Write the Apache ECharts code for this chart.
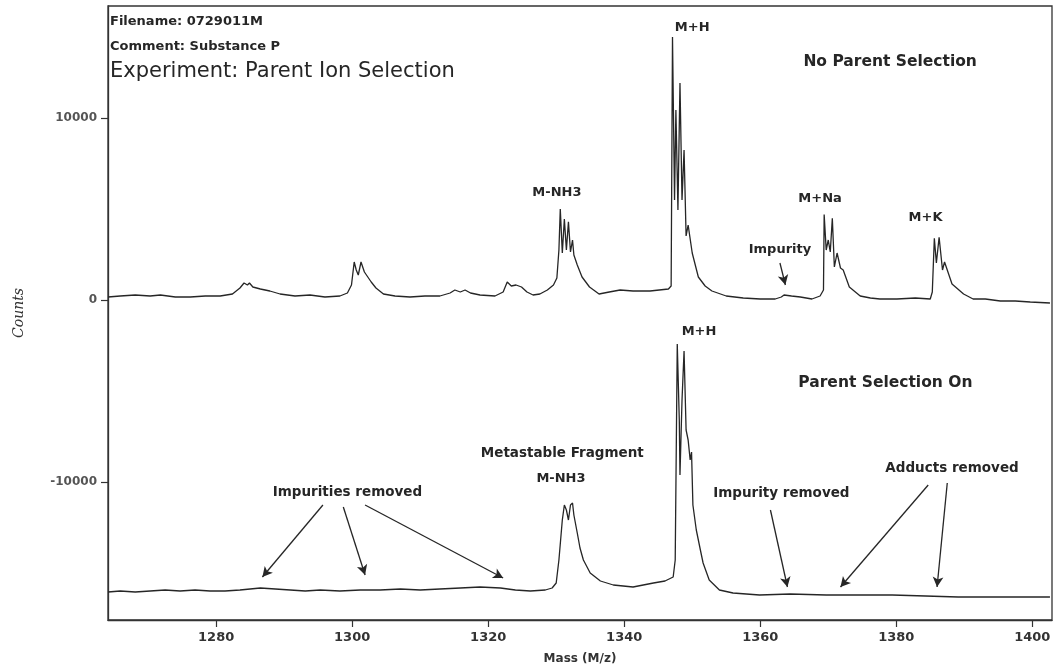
<!DOCTYPE html>
<html>
<head>
<meta charset="utf-8">
<script src="https://cdn.jsdelivr.net/npm/echarts@6/dist/echarts.min.js"></script>
<style>
html,body{margin:0;padding:0;background:#fff;}
#chart{width:1058px;height:671px;}
</style>
</head>
<body>
<div id="chart"></div>
<script>
// ---- Data ----
const xTicks = [1280, 1300, 1320, 1340, 1360, 1380, 1400];
const yTicks = [-10000, 0, 10000];

// Top trace: "No Parent Selection"
const topMass = [1264.1,1265.9,1268.1,1270.3,1271.8,1274.0,1276.2,1278.4,1280.6,1282.4,1283.5,1284.1,1284.6,1284.9,1285.4,1286.5,1287.9,1289.4,1291.6,1293.8,1296.0,1298.2,1299.3,1299.9,1300.3,1300.6,1300.9,1301.3,1301.8,1302.2,1302.8,1303.5,1304.6,1306.3,1308.5,1310.7,1312.9,1314.4,1315.1,1315.9,1316.6,1317.4,1318.8,1321.0,1322.2,1322.8,1323.4,1324.1,1324.9,1325.7,1326.6,1327.6,1328.7,1329.6,1330.1,1330.4,1330.6,1330.9,1331.2,1331.5,1331.8,1332.1,1332.4,1332.6,1333.1,1333.8,1334.9,1336.3,1337.8,1339.4,1341.3,1343.8,1346.5,1346.9,1347.1,1347.4,1347.6,1347.9,1348.2,1348.5,1348.8,1349.1,1349.4,1350.0,1350.9,1351.9,1352.9,1355.0,1357.5,1360.0,1362.2,1363.1,1363.5,1364.6,1365.9,1367.6,1368.8,1369.3,1369.4,1369.7,1370.0,1370.3,1370.6,1370.9,1371.3,1371.8,1372.2,1373.1,1374.7,1376.2,1377.6,1380.1,1382.8,1385.0,1385.3,1385.6,1385.9,1386.3,1386.8,1387.1,1387.5,1388.2,1389.9,1391.3,1393.1,1395.3,1397.5,1399.7,1402.6];
const topCounts = [165,220,275,220,275,165,165,220,220,330,660,935,825,935,715,605,495,330,220,275,165,220,385,825,2090,1650,1375,2090,1540,1320,990,660,330,220,165,220,220,385,550,440,550,385,275,220,440,990,770,825,715,440,275,330,550,825,1210,2750,5000,2585,4450,2750,4300,2640,3300,2475,1925,1265,715,330,440,550,495,495,605,770,14465,5500,10450,4950,11935,5500,8250,3520,4125,2585,1265,770,495,220,110,55,55,165,275,220,165,55,220,550,4700,2750,3300,2640,4500,1815,2585,1760,1650,715,220,110,55,55,110,55,440,3400,2035,3450,1650,2090,1650,880,330,55,55,-55,-55,-110,-165];

// Bottom trace: "Parent Selection On"
const bottomMass = [1264.1,1265.9,1268.1,1270.3,1272.5,1274.7,1276.9,1279.1,1281.3,1283.5,1286.5,1288.7,1290.9,1293.1,1295.3,1298.2,1301.2,1304.1,1307.1,1310.0,1312.9,1315.9,1318.8,1321.8,1324.0,1326.2,1328.4,1329.4,1330.0,1330.4,1330.9,1331.2,1331.5,1331.8,1332.1,1332.4,1332.6,1333.1,1333.5,1334.0,1335.0,1336.5,1338.4,1341.3,1344.3,1346.0,1347.2,1347.5,1347.8,1348.1,1348.2,1348.5,1348.8,1349.1,1349.4,1349.7,1349.9,1350.1,1350.6,1351.2,1351.6,1352.5,1354.0,1356.0,1359.9,1364.4,1369.7,1374.7,1379.4,1384.3,1389.1,1395.3,1402.6];
const bottomCounts = [-16060,-16005,-16060,-16005,-15950,-16005,-15950,-16005,-16005,-15950,-15840,-15895,-15950,-16005,-15950,-16005,-15950,-15950,-15895,-15950,-15895,-15840,-15785,-15840,-15950,-16005,-15950,-15840,-15565,-14300,-12100,-11275,-11550,-12100,-11275,-11165,-11825,-12815,-13640,-14300,-15015,-15455,-15675,-15785,-15565,-15455,-15235,-14300,-2420,-6600,-9625,-5500,-2805,-7150,-7700,-8800,-8360,-11275,-12650,-13750,-14465,-15400,-15950,-16115,-16225,-16170,-16225,-16225,-16225,-16280,-16335,-16335,-16335];

// Annotation texts and their anchor points (data units)
const annotTexts  = ["M+H","No Parent Selection","M-NH3","M+Na","M+K","Impurity","M+H","Parent Selection On","Metastable Fragment","M-NH3","Impurities removed","Impurity removed","Adducts removed"];
const annotMass   = [1350.0,1379.1,1330.1,1368.8,1384.3,1362.9,1351.0,1378.4,1330.9,1330.7,1299.3,1363.1,1388.2];
const annotCounts = [14960,13090,5885,5555,4510,2750,-1760,-4565,-8415,-9845,-10560,-10615,-9240];

// Arrows (data units)
const arrowFromMass   = [1362.9,1295.7,1298.7,1301.9,1361.5,1384.7,1387.5];
const arrowFromCounts = [2035,-11275,-11385,-11275,-11550,-10175,-10065];
const arrowToMass     = [1363.7,1286.8,1301.9,1322.2,1364.0,1371.8,1386.0];
const arrowToCounts   = [825,-15235,-15125,-15290,-15785,-15785,-15785];

// Header texts
const headerTexts = ["Filename: 0729011M", "Comment: Substance P", "Experiment: Parent Ion Selection"];

// ---- Chart ----
const chart = echarts.init(document.getElementById('chart'), null, {renderer: 'canvas'});
const ink = '#262626';
const topData = topMass.map((m, i) => [m, topCounts[i]]);
const bottomData = bottomMass.map((m, i) => [m, bottomCounts[i]]);
const arrows = arrowFromMass.map((m, i) => [
  {coord: [m, arrowFromCounts[i]]},
  {coord: [arrowToMass[i], arrowToCounts[i]]}
]);

const option = {
  backgroundColor: '#ffffff',
  animation: false,
  grid: {left: 108, right: 6, top: 6, bottom: 51, show: true, borderColor: '#333', borderWidth: 1.3, backgroundColor: 'transparent'},
  xAxis: {
    type: 'value', min: 1264.1, max: 1402.9,
    name: 'Mass (M/z)', nameLocation: 'middle', nameGap: 33,
    nameTextStyle: {fontFamily: 'DejaVu Sans', fontWeight: 'bold', fontSize: 12, color: '#333'},
    axisLine: {onZero: false, lineStyle: {color: '#333', width: 1.3}},
    axisTick: {show: true, length: 7, customValues: xTicks, lineStyle: {color: '#333', width: 1.2}},
    axisLabel: {customValues: xTicks, margin: 11, formatter: v => String(v), fontFamily: 'DejaVu Sans', fontWeight: 'bold', fontSize: 13, color: '#333'},
    splitLine: {show: false}
  },
  yAxis: {
    type: 'value', min: -17600, max: 16170,
    name: 'Counts', nameLocation: 'middle', nameGap: 82, nameRotate: 90,
    nameTextStyle: {fontFamily: 'DejaVu Serif', fontStyle: 'italic', fontSize: 14, color: '#333'},
    axisLine: {lineStyle: {color: '#333', width: 1.3}},
    axisTick: {show: true, length: 7, customValues: yTicks, lineStyle: {color: '#333', width: 1.2}},
    axisLabel: {customValues: yTicks, margin: 11, formatter: v => String(v), fontFamily: 'DejaVu Sans', fontWeight: 'bold', fontSize: 12, color: '#555'},
    splitLine: {show: false}
  },
  series: [
    {
      name: 'No Parent Selection', type: 'line', data: topData,
      showSymbol: false, symbol: 'none', smooth: false,
      lineStyle: {color: ink, width: 1.3}
    },
    {
      name: 'Parent Selection On', type: 'line', data: bottomData,
      showSymbol: false, symbol: 'none', smooth: false,
      lineStyle: {color: ink, width: 1.3},
      markLine: {
        silent: true, symbol: ['none', 'arrow'], symbolSize: [8, 10], precision: 1,
        label: {show: false},
        lineStyle: {type: 'solid', color: ink, width: 1.3},
        emphasis: {disabled: true},
        data: arrows
      }
    }
  ]
};
chart.setOption(option);

// Text annotations placed through the axes' scales
const bigLabels = {"No Parent Selection": true, "Parent Selection On": true};
const arrowLabels = {"Impurities removed": true, "Impurity removed": true, "Adducts removed": true, "Metastable Fragment": true};
const graphics = annotTexts.map((t, i) => {
  const p = chart.convertToPixel({gridIndex: 0}, [annotMass[i], annotCounts[i]]);
  let font = 'bold 13px "DejaVu Sans"';
  if (bigLabels[t]) font = 'bold 15.5px "DejaVu Sans"';
  else if (arrowLabels[t]) font = 'bold 13.5px "DejaVu Sans"';
  return {
    type: 'text', x: p[0], y: p[1], silent: true,
    style: {text: t, fill: ink, align: 'center', verticalAlign: 'middle', font: font}
  };
});
graphics.push(
  {type: 'text', x: 110, y: 22, silent: true, style: {text: headerTexts[0], fill: ink, verticalAlign: 'middle', font: 'bold 13px "DejaVu Sans"'}},
  {type: 'text', x: 110, y: 47, silent: true, style: {text: headerTexts[1], fill: ink, verticalAlign: 'middle', font: 'bold 13px "DejaVu Sans"'}},
  {type: 'text', x: 110, y: 72, silent: true, style: {text: headerTexts[2], fill: ink, verticalAlign: 'middle', font: '21px "DejaVu Sans"'}}
);
chart.setOption({graphic: graphics});
</script>
</body>
</html>
